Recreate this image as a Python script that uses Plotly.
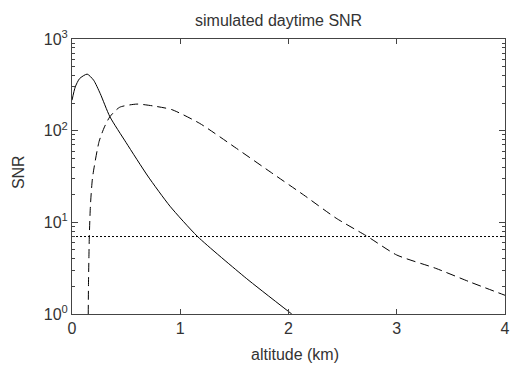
import plotly.graph_objects as go

# solid curve (altitude km, SNR)
solid_alt = [0.0, 0.03, 0.07, 0.14, 0.2, 0.26, 0.35, 0.5, 0.7, 0.905, 1.16, 1.61, 2.03]
solid_snr = [215, 300, 370, 414, 355, 255, 142, 74, 32, 15.0, 7.0, 2.45, 1.0]

# dashed curve
dashed_alt = [0.150, 0.152, 0.156, 0.160, 0.17, 0.19, 0.25, 0.3, 0.35, 0.44, 0.6, 0.75, 0.92, 1.18, 1.52, 1.83, 2.14, 2.44, 2.73, 3.0, 3.36, 3.67, 4.0]
dashed_snr = [1.0, 2.0, 4.0, 7.0, 15, 31, 76, 110, 142, 180, 195, 186, 170, 120, 64, 35.6, 19.9, 11.1, 7.0, 4.4, 3.15, 2.25, 1.6]

# threshold
thr_alt = [0, 4]
thr_snr = [7.0, 7.0]

x_ticks = [0, 1, 2, 3, 4]
y_tickvals = [1, 10, 100, 1000]
y_ticktext = ["10<sup>0</sup>", "10<sup>1</sup>", "10<sup>2</sup>", "10<sup>3</sup>"]

title_text = "simulated daytime SNR"
x_title = "altitude (km)"
y_title = "SNR"

minor_vals = [m * d for d in [1, 10, 100] for m in range(2, 10)]

fig = go.Figure()
fig.add_trace(go.Scatter(x=solid_alt, y=solid_snr, mode="lines", line=dict(color="black", width=1, shape="spline", smoothing=0.6)))
fig.add_trace(go.Scatter(x=dashed_alt, y=dashed_snr, mode="lines", line=dict(color="black", width=1, dash="9px,5px", shape="spline", smoothing=0.6)))
fig.add_trace(go.Scatter(x=thr_alt, y=thr_snr, mode="lines", line=dict(color="black", width=1, dash="2px,2px")))

axcol = "#444444"
txtcol = "#333333"
fontfam = "Liberation Sans, Arial, Helvetica, sans-serif"
yaxis_common = dict(
    type="log", range=[0, 3], tickvals=y_tickvals,
    ticks="inside", ticklen=6, tickcolor=axcol,
    showline=True, linecolor=axcol, linewidth=1, showgrid=False, zeroline=False,
    minor=dict(tickvals=minor_vals, ticks="inside", ticklen=3, tickcolor=axcol, showgrid=False),
    automargin=False,
)
fig.update_layout(
    width=510, height=373,
    margin=dict(l=72, r=5, t=39, b=59),
    paper_bgcolor="white", plot_bgcolor="white",
    showlegend=False,
    font=dict(family=fontfam, size=16, color=txtcol),
    xaxis=dict(
        range=[0, 4], tickvals=x_ticks, ticks="inside", ticklen=5, tickcolor=axcol,
        showline=True, linecolor=axcol, linewidth=1, mirror="ticks", showgrid=False, zeroline=False,
        automargin=False,
    ),
    yaxis=dict(ticktext=y_ticktext, **yaxis_common),
    yaxis2=dict(overlaying="y", side="right", showticklabels=False, **yaxis_common),
    annotations=[
        dict(text=title_text, xref="paper", yref="paper", x=0.476, y=1.069, xanchor="center", yanchor="middle",
             showarrow=False, font=dict(size=16, color=txtcol)),
        dict(text=x_title, xref="paper", yref="paper", x=0.515, y=-0.149, xanchor="center", yanchor="middle",
             showarrow=False, font=dict(size=16, color=txtcol)),
        dict(text=y_title, xref="paper", yref="paper", x=-0.1247, y=0.516, xanchor="center", yanchor="middle",
             textangle=-90, showarrow=False, font=dict(size=16, color=txtcol)),
    ],
)
# invisible trace to activate right-side mirrored axis
fig.add_trace(go.Scatter(x=[0], y=[1], yaxis="y2", mode="lines", line=dict(width=0), hoverinfo="skip", showlegend=False))

fig.write_html("out.html", config={"displayModeBar": False},
               post_script="document.body.style.margin='0';document.body.style.padding='0';")
